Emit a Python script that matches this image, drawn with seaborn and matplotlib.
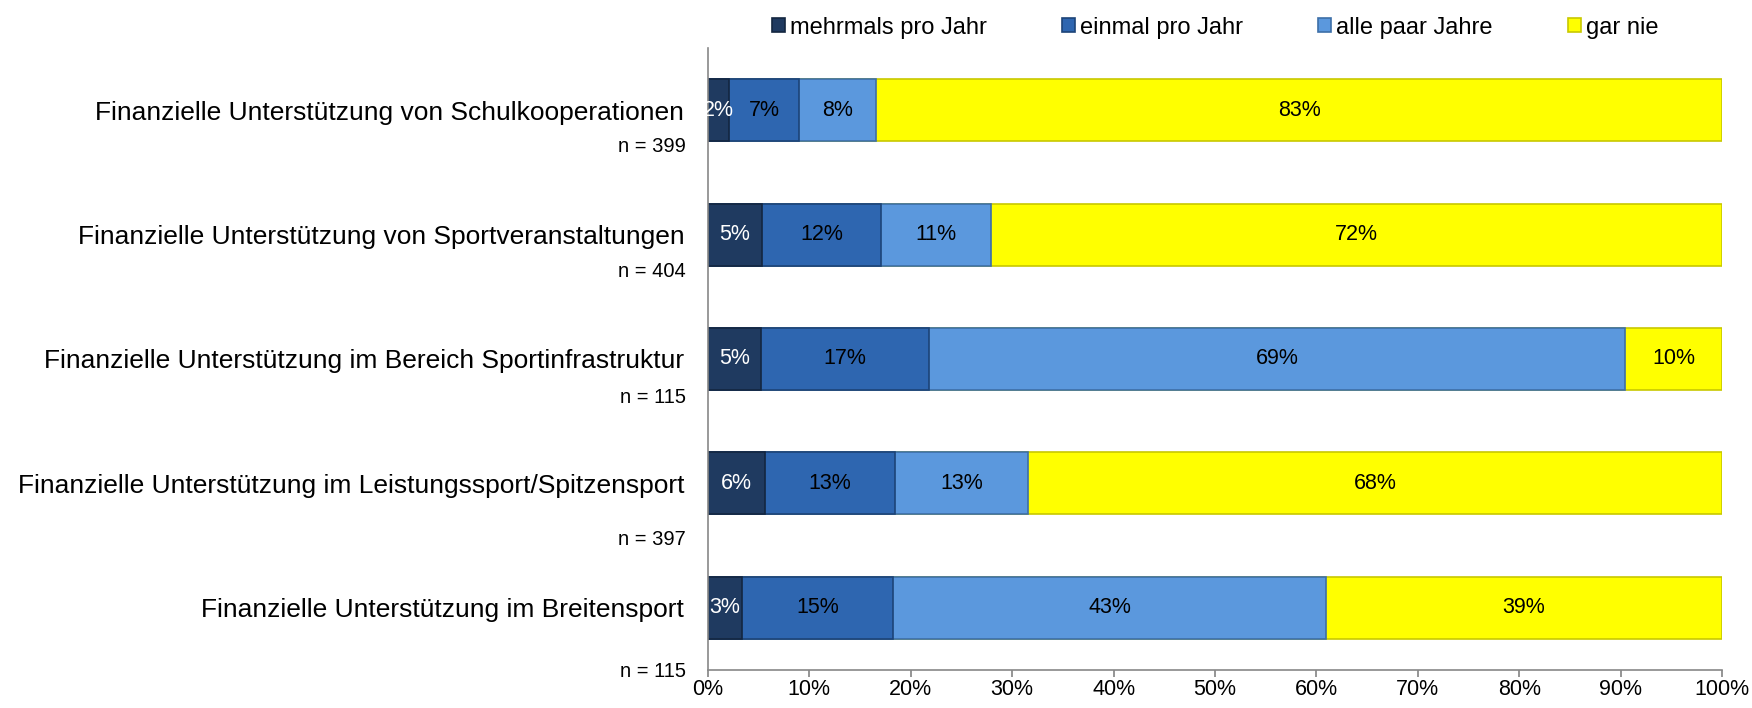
import matplotlib
matplotlib.use("Agg")
import matplotlib.pyplot as plt
import seaborn as sns
import pandas as pd
import numpy as np

categories = [
    "Finanzielle Unterstützung von Schulkooperationen",
    "Finanzielle Unterstützung von Sportveranstaltungen",
    "Finanzielle Unterstützung im Bereich Sportinfrastruktur",
    "Finanzielle Unterstützung im Leistungssport/Spitzensport",
    "Finanzielle Unterstützung im Breitensport",
]
n_labels = ["n = 399", "n = 404", "n = 115", "n = 397", "n = 115"]

series = ["mehrmals pro Jahr", "einmal pro Jahr", "alle paar Jahre", "gar nie"]
mehrmals = [2.1, 5.3, 5.2, 5.6, 3.4]
einmal = [6.9, 11.8, 16.6, 12.9, 14.9]
alle_paar = [7.6, 10.8, 68.6, 13.1, 42.6]
gar_nie = [83.4, 72.1, 9.6, 68.4, 39.1]

colors = ["#1f3a60", "#2e66b0", "#5b98dd", "#ffff00"]
edges = ["#132640", "#1d4478", "#3d6fa8", "#c8c800"]
text_colors = ["white", "black", "black", "black"]

# Abstand des n-Labels unter der Kategorie (in Kategorie-Einheiten)
n_offset = [0.29, 0.30, 0.31, 0.45, 0.51]

df = pd.DataFrame({"Kategorie": categories, series[0]: mehrmals,
                   series[1]: einmal, series[2]: alle_paar, series[3]: gar_nie})
cum = df[series].cumsum(axis=1)

sns.set_theme(style="white")
plt.rcParams["font.family"] = ["Liberation Sans", "DejaVu Sans"]
plt.rcParams["text.color"] = "black"
plt.rcParams["xtick.color"] = "black"
plt.rcParams["ytick.color"] = "black"

fig = plt.figure(figsize=(17.52, 7.08), dpi=100)
ax = fig.add_axes([0.404, 0.054, 0.579, 0.878])

# gestapelt: kumulierte Summen von hinten nach vorne zeichnen
for i in reversed(range(len(series))):
    sns.barplot(x=cum[series[i]], y=df["Kategorie"], orient="h", color=colors[i],
                edgecolor=edges[i], linewidth=1.2, width=0.5, ax=ax,
                label=series[i], saturation=1)

# Prozentwerte in den Segmenten
for r in range(len(categories)):
    left = 0
    for i, s in enumerate(series):
        v = df.loc[r, s]
        ax.text(left + v / 2, r, f"{v:.0f}%", ha="center", va="center",
                fontsize=15.5, color=text_colors[i])
        left += v

for r, lab in enumerate(n_labels):
    ax.annotate(lab, xy=(0, r + n_offset[r]), xycoords=("axes fraction", "data"),
                xytext=(-16, 0), textcoords="offset points",
                ha="right", va="center", fontsize=14.5)

ax.set_xlim(0, 100)
ax.set_ylim(4.5, -0.5)
ax.set_xticks(np.arange(0, 101, 10))
ax.set_xticklabels([f"{t}%" for t in range(0, 101, 10)], fontsize=15.5)
ax.tick_params(axis="y", labelsize=19, pad=17, length=0)
ax.tick_params(axis="x", bottom=True, direction="out", length=5, color="#888888", pad=2)
ax.set_xlabel("")
ax.set_ylabel("")
for side in ["top", "right"]:
    ax.spines[side].set_visible(False)
for side in ["left", "bottom"]:
    ax.spines[side].set_color("#888888")
    ax.spines[side].set_linewidth(1.2)

handles, labels = ax.get_legend_handles_labels()
order = [labels.index(s) for s in series]
leg = ax.legend([handles[k] for k in order], series, ncol=4, loc="lower center",
                bbox_to_anchor=(0.5, 1.0), frameon=False, fontsize=17,
                handlelength=0.55, handleheight=0.55, handletextpad=0.2,
                columnspacing=3.2, borderaxespad=0)

fig.savefig("out.png", dpi=100)
